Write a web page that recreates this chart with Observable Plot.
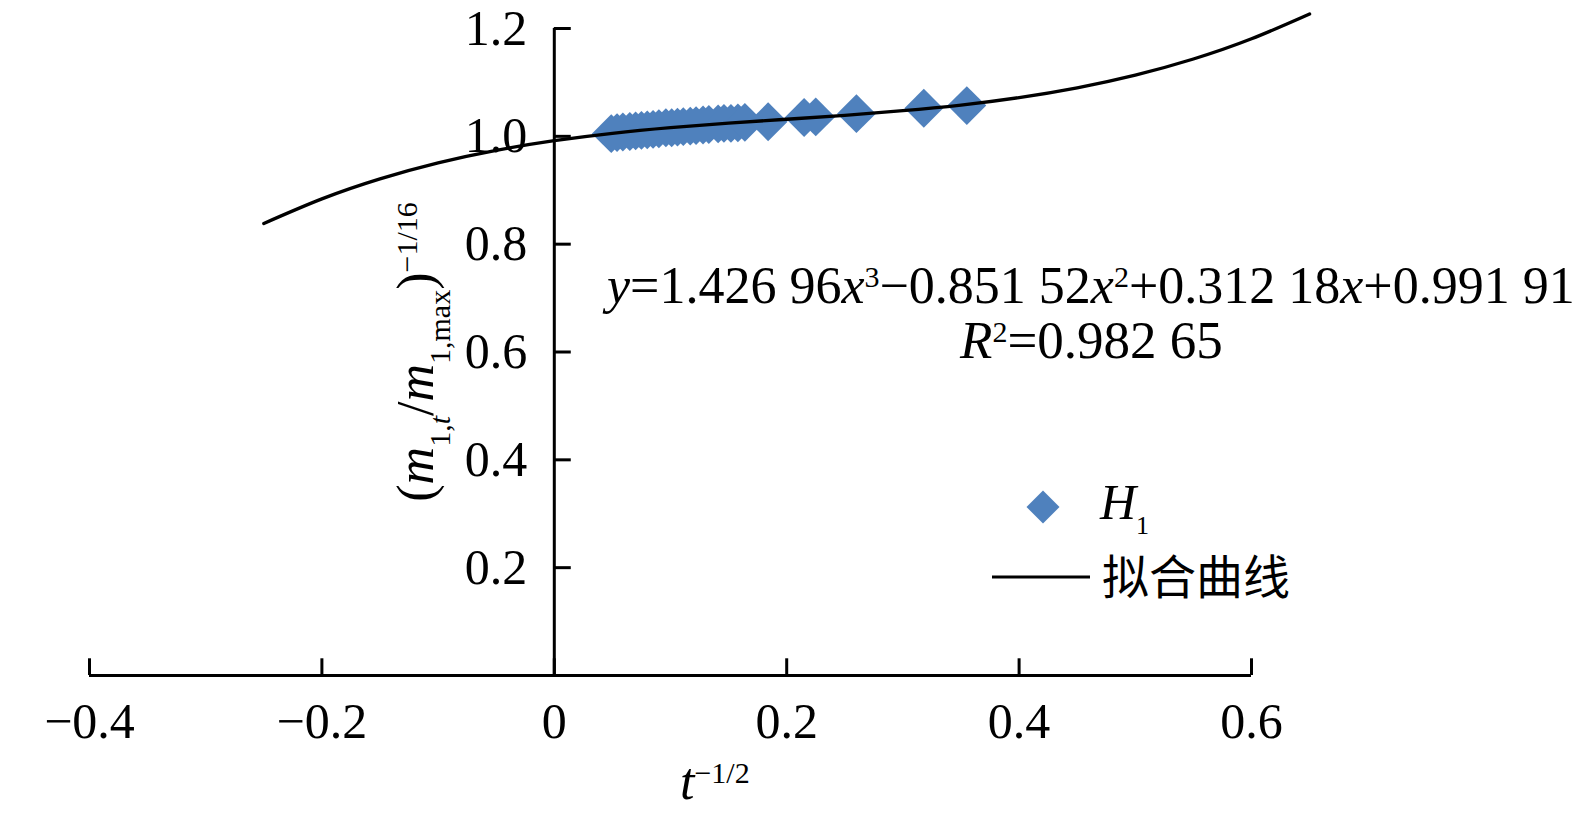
<!DOCTYPE html>
<html>
<head>
<meta charset="utf-8">
<script src="https://cdn.jsdelivr.net/npm/d3@7"></script>
<script src="https://cdn.jsdelivr.net/npm/@observablehq/plot@0.6"></script>
<style>
  html, body { margin: 0; padding: 0; background: #fff; }
  #chart svg { display: block; }
</style>
</head>
<body>
<div id="chart"></div>
<script>
// ---- data ----
const pointsX = [0.049,0.054,0.059,0.065,0.070,0.075,0.080,0.085,0.090,0.096,0.101,0.106,0.111,0.117,0.122,0.128,0.133,0.141,0.146,0.152,0.158,0.164,0.184,0.215,0.225,0.260,0.318,0.355];
const pointsY = [1.005,1.007,1.008,1.009,1.010,1.011,1.012,1.013,1.014,1.016,1.016,1.017,1.018,1.019,1.020,1.021,1.022,1.023,1.024,1.024,1.025,1.026,1.027,1.035,1.036,1.042,1.052,1.057];

const curveX = [-0.25,-0.20,-0.15,-0.10,-0.05,0.00,0.05,0.10,0.15,0.20,0.25,0.30,0.35,0.40,0.45,0.50,0.55,0.60,0.65];
const curveY = [0.8384,0.8840,0.9211,0.9508,0.9740,0.9919,1.0056,1.0160,1.0244,1.0317,1.0390,1.0475,1.0580,1.0719,1.0900,1.1135,1.1434,1.1809,1.2269];

const xTicks = [-0.4,-0.2,0,0.2,0.4,0.6];
const xTickLabels = ["\u22120.4","\u22120.2","0","0.2","0.4","0.6"];
const yTicks = [0.2,0.4,0.6,0.8,1.0,1.2];
const yTickLabels = ["0.2","0.4","0.6","0.8","1.0","1.2"];

const fitName = "拟合曲线";

// ---- tables built from arrays ----
const points = pointsX.map((x, i) => ({x, y: pointsY[i]}));
const curve = curveX.map((x, i) => ({x, y: curveY[i]}));
const xT = xTicks.map((v, i) => ({v, label: xTickLabels[i]}));
const yT = yTicks.map((v, i) => ({v, label: yTickLabels[i]}));

const BLUE = "#4F81BD";
const SERIF = "Liberation Serif";
const FS = 50;

const chart = Plot.plot({
  width: 1575,
  height: 830,
  marginLeft: 89,
  marginRight: 324,
  marginTop: 28,
  marginBottom: 155,
  x: {domain: [xTicks[0], xTicks[xTicks.length - 1]], axis: null},
  y: {domain: [0, yTicks[yTicks.length - 1]], axis: null},
  style: {fontFamily: SERIF, background: "#fff", overflow: "visible"},
  marks: [
    // axis lines crossing at the origin
    Plot.ruleY([0], {x1: xTicks[0], x2: xTicks[xTicks.length - 1], stroke: "#000", strokeWidth: 3}),
    Plot.ruleX([0], {y1: 0, y2: yTicks[yTicks.length - 1], stroke: "#000", strokeWidth: 3}),
    // inward ticks
    Plot.ruleX(xT, {x: "v", y1: 0, y2: 0.031, stroke: "#000", strokeWidth: 3}),
    Plot.ruleY(yT, {y: "v", x1: 0, x2: 0.0146, stroke: "#000", strokeWidth: 3}),
    // tick labels
    Plot.text(xT, {x: "v", y: 0, text: "label", dy: 46, fontSize: FS, fill: "#000"}),
    Plot.text(yT, {x: 0, y: "v", text: "label", dx: -27, textAnchor: "end", fontSize: FS, fill: "#000"}),
    // data
    Plot.dot(points, {x: "x", y: "y", symbol: "diamond2", r: 17.5, fill: BLUE, stroke: "none"}),
    Plot.line(curve, {x: "x", y: "y", curve: "natural", stroke: "#000", strokeWidth: 3.3})
  ]
});

document.getElementById("chart").appendChild(chart);

// ---- rich-text annotations (equation, axis titles, legend) ----
const svg = d3.select(chart);
function rich(x, y, parts, opts = {}) {
  const t = svg.append("text")
    .attr("x", x).attr("y", y)
    .style("font-family", opts.family || SERIF)
    .attr("font-size", opts.size || FS)
    .attr("fill", "#000")
    .attr("text-anchor", opts.anchor || "start");
  if (opts.transform) t.attr("transform", opts.transform).attr("x", 0).attr("y", 0);
  for (const p of parts) {
    const ts = t.append("tspan").text(p.t);
    if (p.i) ts.attr("font-style", "italic");
    if (p.sup) ts.attr("baseline-shift", "super").attr("font-size", p.fs || 30);
    if (p.sub) ts.attr("baseline-shift", "sub").attr("font-size", p.fs || 30);
  }
  return t;
}

// fitted equation
rich(607, 303, [
  {t: "y", i: true}, {t: "=1.426 96"}, {t: "x", i: true}, {t: "3", sup: true},
  {t: "\u22120.851 52"}, {t: "x", i: true}, {t: "2", sup: true},
  {t: "+0.312 18"}, {t: "x", i: true}, {t: "+0.991 91"}
], {size: 52});
rich(960, 358, [
  {t: "R", i: true}, {t: "2", sup: true}, {t: "=0.982 65"}
], {size: 53});

// y-axis title
rich(0, 0, [
  {t: "("}, {t: "m", i: true}, {t: "1,", sub: true}, {t: "t", sub: true, i: true},
  {t: "/"}, {t: "m", i: true}, {t: "1,max", sub: true}, {t: ")"},
  {t: "\u22121/16", sup: true}
], {transform: "translate(433,352) rotate(-90)", anchor: "middle", size: 52});

// x-axis title
rich(680, 799, [{t: "t", i: true}, {t: "\u22121/2", sup: true}], {size: 52});

// legend
svg.append("path")
  .attr("d", d3.symbol(d3.symbolDiamond2, 694)())
  .attr("transform", "translate(1043,507)")
  .attr("fill", BLUE);
rich(1100, 519, [{t: "H", i: true}, {t: "1", sub: true, fs: 26}], {size: 50});
svg.append("line")
  .attr("x1", 992).attr("x2", 1090).attr("y1", 577).attr("y2", 577)
  .attr("stroke", "#000").attr("stroke-width", 3);
rich(1102, 594, [{t: fitName}], {family: "Noto Sans CJK SC", size: 47});
</script>
</body>
</html>
